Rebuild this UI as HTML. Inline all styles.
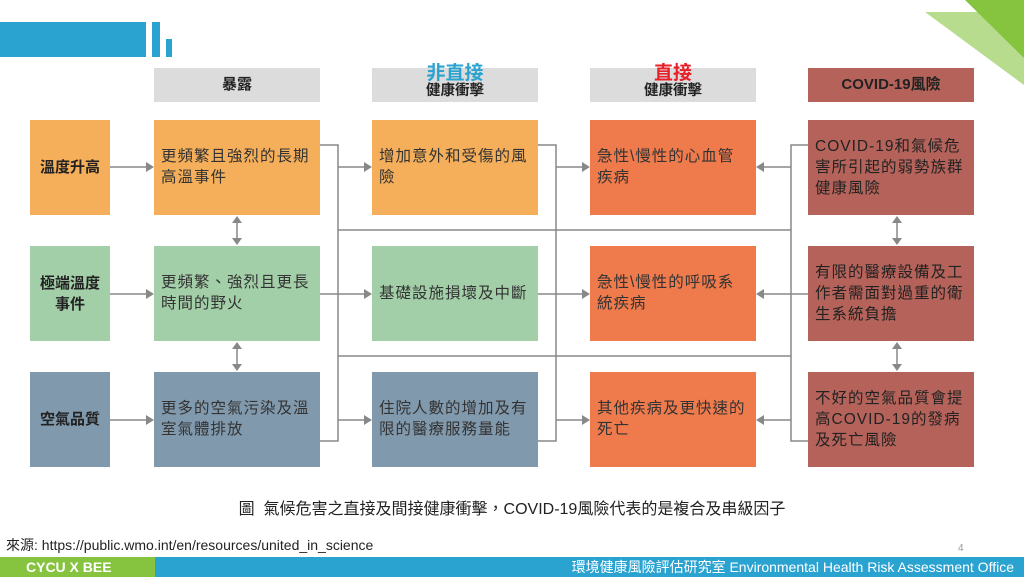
<!DOCTYPE html>
<html><head><meta charset="utf-8"><style>
body{margin:0;width:1024px;height:577px;position:relative;overflow:hidden;background:#fff;font-family:"Liberation Sans","Noto Sans CJK TC",sans-serif}
.b{position:absolute;box-sizing:border-box;padding:26px 6px 0 7px;font-size:15.5px;line-height:21px;color:#333;letter-spacing:1px}
.h{position:absolute;top:68px;height:34px;width:166px;background:#dcdcdc;text-align:center;font-size:14px;font-weight:bold;color:#222;line-height:16px}
.l{position:absolute;left:30px;width:80px;height:95px;display:flex;align-items:center;justify-content:center;text-align:center;font-weight:bold;font-size:15px;color:#222;line-height:21px}
</style></head><body>
<div style="position:absolute;left:0;top:22px;width:146px;height:35px;background:#2ba3d1"></div>
<div style="position:absolute;left:152px;top:22px;width:8px;height:35px;background:#2ba3d1"></div>
<div style="position:absolute;left:166px;top:39px;width:6px;height:18px;background:#2ba3d1"></div>
<svg style="position:absolute;left:0;top:0" width="1024" height="577">
<polygon points="925,12 1024,12 1024,85" fill="#b7dc8d"/>
<polygon points="965,0 1024,0 1024,58" fill="#86c440"/>
<g stroke="#888" stroke-width="1.5" fill="none">
<polyline points="320,145 338,145 338,441 320,441"/>
<polyline points="538,145 556,145 556,441 538,441"/>
<polyline points="808,145 791,145 791,441 808,441"/>
<line x1="338" y1="230" x2="791" y2="230"/><line x1="338" y1="356" x2="791" y2="356"/>
<line x1="110" y1="167" x2="148" y2="167"/><line x1="110" y1="294" x2="148" y2="294"/><line x1="110" y1="420" x2="148" y2="420"/>
<line x1="338" y1="167" x2="366" y2="167"/><line x1="320" y1="294" x2="366" y2="294"/><line x1="338" y1="420" x2="366" y2="420"/>
<line x1="556" y1="167" x2="584" y2="167"/><line x1="538" y1="294" x2="584" y2="294"/><line x1="556" y1="420" x2="584" y2="420"/>
<line x1="791" y1="167" x2="762" y2="167"/><line x1="808" y1="294" x2="762" y2="294"/><line x1="791" y1="420" x2="762" y2="420"/>
<line x1="237" y1="220" x2="237" y2="241"/><line x1="237" y1="346" x2="237" y2="367"/>
<line x1="897" y1="220" x2="897" y2="241"/><line x1="897" y1="346" x2="897" y2="367"/>
</g>
<g fill="#888">
<polygon points="154,167 146,162 146,172"/><polygon points="154,294 146,289 146,299"/><polygon points="154,420 146,415 146,425"/>
<polygon points="372,167 364,162 364,172"/><polygon points="372,294 364,289 364,299"/><polygon points="372,420 364,415 364,425"/>
<polygon points="590,167 582,162 582,172"/><polygon points="590,294 582,289 582,299"/><polygon points="590,420 582,415 582,425"/>
<polygon points="756,167 764,162 764,172"/><polygon points="756,294 764,289 764,299"/><polygon points="756,420 764,415 764,425"/>
<polygon points="237,216 232,223 242,223"/><polygon points="237,245 232,238 242,238"/><polygon points="237,342 232,349 242,349"/><polygon points="237,371 232,364 242,364"/>
<polygon points="897,216 892,223 902,223"/><polygon points="897,245 892,238 902,238"/><polygon points="897,342 892,349 902,349"/><polygon points="897,371 892,364 902,364"/>
</g></svg>
<div class="h" style="left:154px;line-height:34px;font-size:15px">暴露</div>
<div class="h" style="left:372px"><div style="color:#2ba3d1;font-size:19px;line-height:19px;margin-top:-4px">非直接</div><div style="font-size:14.5px;line-height:17px">健康衝擊</div></div>
<div class="h" style="left:590px"><div style="color:#e8202a;font-size:19px;line-height:19px;margin-top:-4px">直接</div><div style="font-size:14.5px;line-height:17px">健康衝擊</div></div>
<div class="h" style="left:808px;background:#b5635a;line-height:34px;font-size:15px">COVID-19風險</div>
<div class="l" style="top:120px;background:#f5ae5a">溫度升高</div>
<div class="l" style="top:246px;background:#a3cfa8">極端溫度<br>事件</div>
<div class="l" style="top:372px;background:#8199ad">空氣品質</div>
<div class="b" style="left:154px;top:120px;width:166px;height:95px;background:#f5ae5a">更頻繁且強烈的長期高溫事件</div>
<div class="b" style="left:154px;top:246px;width:166px;height:95px;background:#a3cfa8">更頻繁、強烈且更長時間的野火</div>
<div class="b" style="left:154px;top:372px;width:166px;height:95px;background:#8199ad">更多的空氣污染及溫室氣體排放</div>
<div class="b" style="left:372px;top:120px;width:166px;height:95px;background:#f5ae5a">增加意外和受傷的風險</div>
<div class="b" style="left:372px;top:246px;width:166px;height:95px;background:#a3cfa8;padding-top:37px">基礎設施損壞及中斷</div>
<div class="b" style="left:372px;top:372px;width:166px;height:95px;background:#8199ad">住院人數的增加及有限的醫療服務量能</div>
<div class="b" style="left:590px;top:120px;width:166px;height:95px;background:#ef7a4c">急性\慢性的心血管疾病</div>
<div class="b" style="left:590px;top:246px;width:166px;height:95px;background:#ef7a4c">急性\慢性的呼吸系統疾病</div>
<div class="b" style="left:590px;top:372px;width:166px;height:95px;background:#ef7a4c">其他疾病及更快速的死亡</div>
<div class="b" style="left:808px;top:120px;width:166px;height:95px;background:#b5635a;padding-top:16px;color:#222">COVID-19和氣候危害所引起的弱勢族群健康風險</div>
<div class="b" style="left:808px;top:246px;width:166px;height:95px;background:#b5635a;padding-top:16px;color:#222">有限的醫療設備及工作者需面對過重的衛生系統負擔</div>
<div class="b" style="left:808px;top:372px;width:166px;height:95px;background:#b5635a;padding-top:16px;color:#222">不好的空氣品質會提高COVID-19的發病及死亡風險</div>
<div style="position:absolute;left:0;top:495px;width:1024px;text-align:center;font-size:16px;color:#222">圖&nbsp; 氣候危害之直接及間接健康衝擊，COVID-19風險代表的是複合及串級因子</div>
<div style="position:absolute;left:6px;top:535px;font-size:14px;color:#222">來源: https://public.wmo.int/en/resources/united_in_science</div>
<div style="position:absolute;left:958px;top:543px;font-size:10px;color:#999">4</div>
<div style="position:absolute;left:0;top:557px;width:155px;height:20px;background:#86c440;color:#fff;font-weight:bold;font-size:14px;line-height:20px;padding-left:26px;box-sizing:border-box">CYCU X BEE</div>
<div style="position:absolute;left:155px;top:557px;width:869px;height:20px;background:#2ba3d1;color:#fff;font-size:14px;line-height:20px;text-align:right;padding-right:10px;box-sizing:border-box">環境健康風險評估研究室 Environmental Health Risk Assessment Office</div>
</body></html>
